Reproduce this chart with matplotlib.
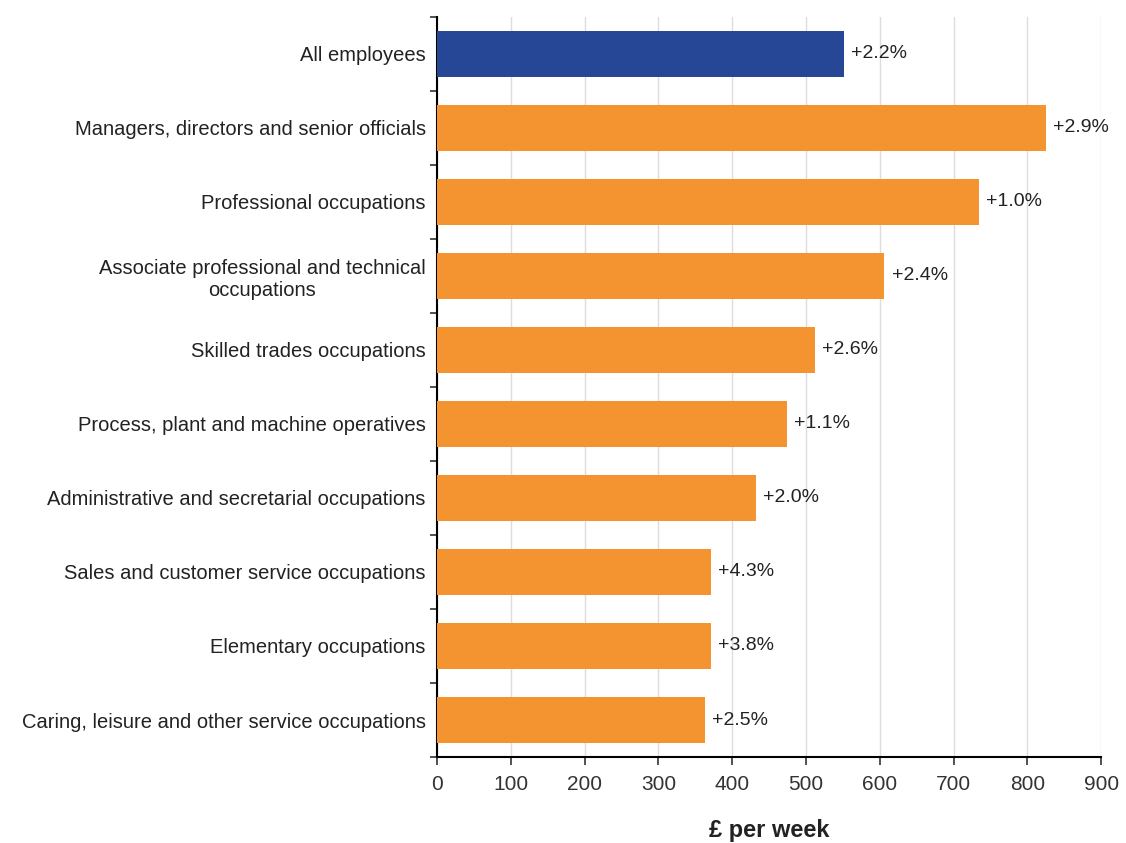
import numpy as np
import matplotlib.pyplot as plt

# data
categories = ["All employees",
              "Managers, directors and senior officials",
              "Professional occupations",
              "Associate professional and technical\noccupations",
              "Skilled trades occupations",
              "Process, plant and machine operatives",
              "Administrative and secretarial occupations",
              "Sales and customer service occupations",
              "Elementary occupations",
              "Caring, leisure and other service occupations"]
weekly_pay = [551, 825, 734, 606, 512, 474, 432, 371, 371, 363]
growth_labels = ["+2.2%", "+2.9%", "+1.0%", "+2.4%", "+2.6%",
                 "+1.1%", "+2.0%", "+4.3%", "+3.8%", "+2.5%"]

plt.rcParams['font.family'] = ['Liberation Sans', 'DejaVu Sans']

fig = plt.figure(figsize=(11.26, 8.43), dpi=100)
ax = fig.add_axes([0.388, 0.102, 0.590, 0.878])

y = np.arange(len(categories))
colors = ["#264796"] + ["#F39430"] * (len(categories) - 1)
ax.barh(y, weekly_pay, height=0.62, color=colors, zorder=3)

for yi, val, lab in zip(y, weekly_pay, growth_labels):
    ax.text(val + 10, yi, lab, va="center", ha="left", fontsize=14, color="#222222")

ax.set_ylim(len(categories) - 0.5, -0.5)
ax.set_xlim(0, 900)
ax.set_xticks(range(0, 1000, 100))
ax.tick_params(axis="x", labelsize=15, length=6, width=1.2, colors="#333333", pad=7)
ax.set_yticks(y)
ax.set_yticklabels(categories, fontsize=14.5, color="#222222")
ax.tick_params(axis="y", length=0, pad=8)
ax.set_yticks(np.arange(-0.5, len(categories)), minor=True)
ax.tick_params(axis="y", which="minor", length=5, width=1.2, color="#333333")
for lbl in ax.get_yticklabels():
    lbl.set_multialignment("center")

ax.grid(axis="x", color="#dddddd", linewidth=1, zorder=0)
for side in ["top", "right"]:
    ax.spines[side].set_visible(False)
ax.spines["left"].set_linewidth(1.5)
ax.spines["bottom"].set_linewidth(1.5)

ax.set_xlabel("£ per week", fontsize=17, fontweight="bold", labelpad=18, color="#222222")

fig.savefig("out.png", dpi=100)
